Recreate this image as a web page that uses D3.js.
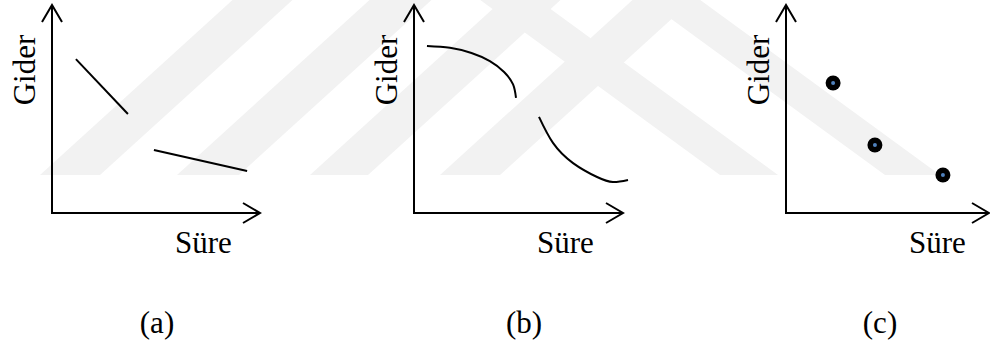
<!DOCTYPE html>
<html>
<head>
<meta charset="utf-8">
<script src="https://cdn.jsdelivr.net/npm/d3@7"></script>
<style>
  html, body { margin: 0; padding: 0; background: #fff; }
  text { font-family: "Liberation Serif", "Times New Roman", serif; fill: #000; }
</style>
</head>
<body>
<script>

// data, in axis units (0..10 on both axes, 10 = arrow tip)
var linesA = [
	[[1.15, 7.40], [3.65, 4.76]],
	[[4.90, 3.03], [9.38, 2.02]]
];

var curvesB = [
	[[0.62, 8.03], [1.72, 7.94], [2.75, 7.69], [3.63, 7.30], [4.31, 6.78], [4.74, 6.18], [4.88, 5.53]],
	[[5.98, 4.62], [6.65, 3.37], [7.61, 2.40], [8.76, 1.73], [9.52, 1.49], [10.24, 1.59]]
];

var pointsC = [[2.32, 6.25], [4.38, 3.27], [7.73, 1.83]];

var yLabels = ["Gider", "Gider", "Gider"];
var xLabels = ["Süre", "Süre", "Süre"];
var captions = ["(a)", "(b)", "(c)"];

// background watermark bands: [bottom x, slope dx/dy, width]
var wmBands = [
	[40, 1.1, 60], [177, 1.1, 62], [310, 1.1, 58], [440, 1.1, 60],
	[720, -1.37, 58], [885, -1.37, 55]
];

var width = 990,
	height = 347;

var panels = [
	{x0: 52,  x1: 260, caption: 157},
	{x0: 414, x1: 623, caption: 524},
	{x0: 786, x1: 989, caption: 880}
];
var yBottom = 213, yTop = 5;
var arrowLen = 17, arrowHalf = 10;

var svg = d3.select("body").append("svg")
	.attr("width", width)
	.attr("height", height);

// faint watermark
var wmY = d3.scaleLinear().domain([0, 1]).range([175, 0]);
svg.append("g")
	.selectAll("path")
	.data(wmBands)
	.enter().append("path")
	.attr("d", function(b) {
		var dx = b[1] * (wmY(0) - wmY(1));
		return "M" + b[0] + "," + wmY(0) +
			"L" + (b[0] + b[2]) + "," + wmY(0) +
			"L" + (b[0] + b[2] + dx) + "," + wmY(1) +
			"L" + (b[0] + dx) + "," + wmY(1) + "Z";
	})
	.style("fill", "#f2f2f2");

panels.forEach(function(p, i) {
	var x = d3.scaleLinear().domain([0, 10]).range([p.x0, p.x1]);
	var y = d3.scaleLinear().domain([0, 10]).range([yBottom, yTop]);

	var g = svg.append("g");

	// axes with open arrowheads
	g.append("path")
		.attr("d", "M" + x(0) + "," + y(10) + "V" + y(0) + "H" + x(10))
		.style("fill", "none").style("stroke", "#000").style("stroke-width", 2);
	g.append("path")
		.attr("d", "M" + (x(0) - arrowHalf) + "," + (y(10) + arrowLen) +
			"L" + x(0) + "," + y(10) +
			"L" + (x(0) + arrowHalf) + "," + (y(10) + arrowLen))
		.style("fill", "none").style("stroke", "#000").style("stroke-width", 2);
	g.append("path")
		.attr("d", "M" + (x(10) - arrowLen) + "," + (y(0) - arrowHalf) +
			"L" + x(10) + "," + y(0) +
			"L" + (x(10) - arrowLen) + "," + (y(0) + arrowHalf))
		.style("fill", "none").style("stroke", "#000").style("stroke-width", 2);

	// labels
	g.append("text")
		.attr("transform", "translate(" + (x(0) - 17) + "," + 70 + ") rotate(-90)")
		.attr("text-anchor", "middle")
		.style("font-size", "31px")
		.text(yLabels[i]);
	g.append("text")
		.attr("x", x(0) + 123)
		.attr("y", 253)
		.style("font-size", "31px")
		.text(xLabels[i]);
	g.append("text")
		.attr("x", p.caption)
		.attr("y", 333)
		.attr("text-anchor", "middle")
		.style("font-size", "31px")
		.text(captions[i]);

	var line = d3.line()
		.x(function(d) { return x(d[0]); })
		.y(function(d) { return y(d[1]); });

	if (i === 0) {
		g.selectAll(".seg")
			.data(linesA)
			.enter().append("path")
			.attr("class", "seg")
			.attr("d", line)
			.style("fill", "none").style("stroke", "#000").style("stroke-width", 2);
	}
	if (i === 1) {
		line.curve(d3.curveNatural);
		g.selectAll(".curve")
			.data(curvesB)
			.enter().append("path")
			.attr("class", "curve")
			.attr("d", line)
			.style("fill", "none").style("stroke", "#000").style("stroke-width", 2);
	}
	if (i === 2) {
		var dots = g.selectAll(".dot")
			.data(pointsC)
			.enter().append("g")
			.attr("class", "dot")
			.attr("transform", function(d) { return "translate(" + x(d[0]) + "," + y(d[1]) + ")"; });
		dots.append("circle").attr("r", 7.5).style("fill", "#000");
		dots.append("circle").attr("r", 2).style("fill", "#4f81bd");
	}
});

</script>
</body>
</html>
